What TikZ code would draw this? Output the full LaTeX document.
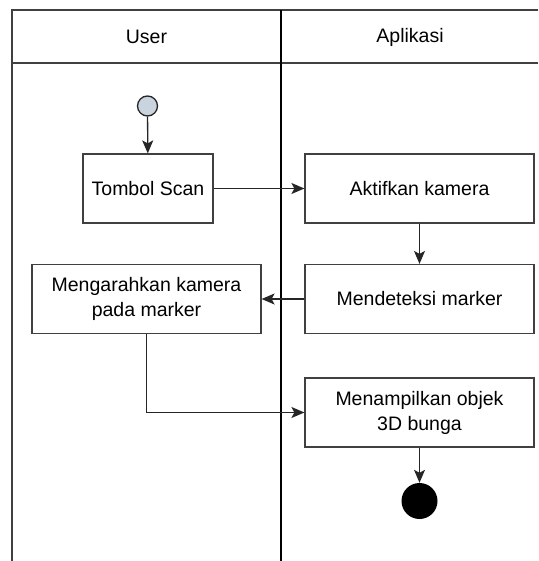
\documentclass[tikz,border=0pt]{standalone}
\usepackage{fontspec}
\setmainfont{Liberation Sans}
\usetikzlibrary{arrows.meta}
\definecolor{startfill}{HTML}{C9D4DE}
\begin{document}
\begin{tikzpicture}[x=1pt,y=-1pt,
  lane/.style={draw=black!75, line width=1.3pt},
  divider/.style={draw=black, line width=2.2pt},
  act/.style={draw=black!75, line width=1.2pt, fill=white, minimum width=#1, minimum height=69pt, align=center, inner sep=2pt, font=\fontsize{19.5}{25}\selectfont},
  act/.default=229pt,
  flow/.style={draw=black!85, line width=1.3pt, -{Stealth[length=13pt,width=11pt,inset=3pt]}},
  lbl/.style={font=\fontsize{19.5}{22}\selectfont}]
\useasboundingbox (0,0) rectangle (538,561);
% swimlane frame
\draw[lane] (538,10) -- (12,10) -- (12,561);
\draw[lane] (12,63) -- (538,63);
\draw[divider] (281,10) -- (281,561);
\node[lbl] (huser) at (146.5,37) {User};
\node[lbl] (happ) at (410,37) {Aplikasi};
% nodes
\node[circle, draw=black!85, line width=1.3pt, fill=startfill, minimum size=20pt, inner sep=0pt] (start) at (147.5,106) {};
\node[act=130pt] (scan) at (148,188.5) {Tombol Scan};
\node[act] (aktif) at (419.5,188.5) {Aktifkan kamera};
\node[act] (deteksi) at (419.5,299) {Mendeteksi marker};
\node[act] (arah) at (146.5,299) {Mengarahkan kamera\\pada marker};
\node[act] (tampil) at (419.5,412.5) {Menampilkan objek\\3D bunga};
\node[circle, fill=black, minimum size=36pt, inner sep=0pt] (end) at (419.5,501) {};
% connectors
\draw[flow] (start) -- (scan);
\draw[flow] (scan) -- (aktif);
\draw[flow] (aktif) -- (deteksi);
\draw[flow] (deteksi) -- (arah);
\draw[flow] (arah.south) |- (tampil.west);
\draw[flow] (tampil) -- (end);
\end{tikzpicture}
\end{document}
